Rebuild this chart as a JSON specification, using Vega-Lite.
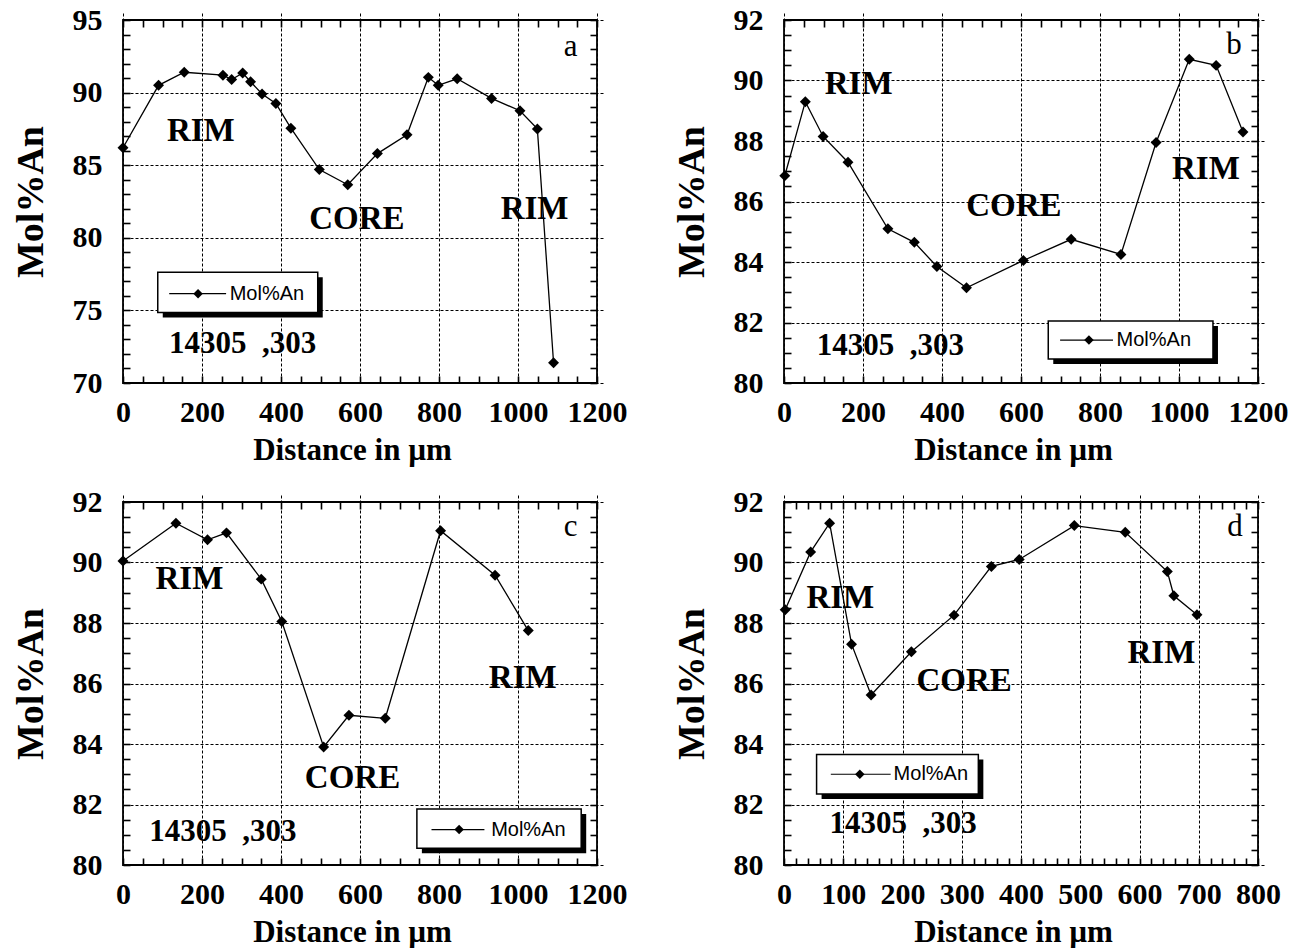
{
  "$schema": "https://vega.github.io/schema/vega-lite/v6.json",
  "background": "white",
  "padding": {"left": 11, "top": 4, "right": 5, "bottom": 0},
  "bounds": "flush",
  "columns": 2,
  "spacing": {"row": 119, "column": 187},
  "config": {
    "view": {"stroke": "black", "strokeWidth": 1.8},
    "axis": {
      "labelFont": "Liberation Serif", "labelFontWeight": "bold", "labelFontSize": 30, "labelColor": "black",
      "titleFont": "Liberation Serif", "titleFontWeight": "bold", "titleColor": "black",
      "ticks": true, "tickColor": "black", "tickSize": 7, "tickWidth": 1.6, "tickOpacity": 1, "offset": -7, "domain": false,
      "gridColor": "black", "gridDash": [3, 2], "gridWidth": 1,
      "labelOverlap": false, "labelFlush": false, "labelBound": false
    },
    "axisBottom": {"labelPadding": 14, "titleFontSize": 31, "titleX": 229, "titleY": 83, "titleAlign": "center", "titleBaseline": "alphabetic"},
    "axisLeft": {"labelPadding": 21, "titleFontSize": 38, "titleX": -99, "titleY": 181.5, "titleAngle": 270, "titleAlign": "center", "titleBaseline": "middle"}
  },
  "datasets": {
    "a": [
      {"distance": 0, "an": 86.2}, {"distance": 90, "an": 90.5}, {"distance": 155, "an": 91.4}, {"distance": 253, "an": 91.2},
      {"distance": 275, "an": 90.9}, {"distance": 303, "an": 91.35}, {"distance": 323, "an": 90.75}, {"distance": 352, "an": 89.9},
      {"distance": 387, "an": 89.25}, {"distance": 425, "an": 87.55}, {"distance": 497, "an": 84.7}, {"distance": 569, "an": 83.65},
      {"distance": 644, "an": 85.8}, {"distance": 719, "an": 87.1}, {"distance": 773, "an": 91.05}, {"distance": 798, "an": 90.5},
      {"distance": 846, "an": 90.95}, {"distance": 933, "an": 89.6}, {"distance": 1005, "an": 88.75}, {"distance": 1049, "an": 87.5},
      {"distance": 1090, "an": 71.4}
    ],
    "b": [
      {"distance": 2, "an": 86.85}, {"distance": 54, "an": 89.3}, {"distance": 99, "an": 88.15}, {"distance": 162, "an": 87.3},
      {"distance": 263, "an": 85.1}, {"distance": 330, "an": 84.65}, {"distance": 387, "an": 83.85}, {"distance": 462, "an": 83.15},
      {"distance": 606, "an": 84.05}, {"distance": 727, "an": 84.75}, {"distance": 853, "an": 84.25}, {"distance": 942, "an": 87.95},
      {"distance": 1026, "an": 90.7}, {"distance": 1094, "an": 90.5}, {"distance": 1162, "an": 88.3}
    ],
    "c": [
      {"distance": 0, "an": 90.05}, {"distance": 134, "an": 91.3}, {"distance": 214, "an": 90.75}, {"distance": 262, "an": 90.98},
      {"distance": 350, "an": 89.45}, {"distance": 402, "an": 88.05}, {"distance": 508, "an": 83.9}, {"distance": 572, "an": 84.95},
      {"distance": 664, "an": 84.85}, {"distance": 804, "an": 91.05}, {"distance": 942, "an": 89.58}, {"distance": 1026, "an": 87.75}
    ],
    "d": [
      {"distance": 2, "an": 88.44}, {"distance": 45, "an": 90.35}, {"distance": 77, "an": 91.3}, {"distance": 114, "an": 87.3},
      {"distance": 147, "an": 85.62}, {"distance": 215, "an": 87.05}, {"distance": 287, "an": 88.26}, {"distance": 350, "an": 89.87},
      {"distance": 397, "an": 90.1}, {"distance": 490, "an": 91.22}, {"distance": 576, "an": 91.0}, {"distance": 647, "an": 89.7},
      {"distance": 658, "an": 88.9}, {"distance": 697, "an": 88.27}
    ],
    "notes": [
      {"panel": "a", "kind": "big", "x": 197, "y": 86.7, "text": "RIM"},
      {"panel": "a", "kind": "big", "x": 592, "y": 80.6, "text": "CORE"},
      {"panel": "a", "kind": "big", "x": 1042, "y": 81.3, "text": "RIM"},
      {"panel": "a", "kind": "sample", "x": 303, "y": 72.05, "text": "14305\u00a0\u00a0,303"},
      {"panel": "a", "kind": "letter", "x": 1133, "y": 92.55, "text": "a"},
      {"panel": "b", "kind": "big", "x": 189, "y": 89.55, "text": "RIM"},
      {"panel": "b", "kind": "big", "x": 582, "y": 85.52, "text": "CORE"},
      {"panel": "b", "kind": "big", "x": 1068, "y": 86.73, "text": "RIM"},
      {"panel": "b", "kind": "sample", "x": 269, "y": 80.93, "text": "14305\u00a0\u00a0,303"},
      {"panel": "b", "kind": "letter", "x": 1139, "y": 90.87, "text": "b"},
      {"panel": "c", "kind": "big", "x": 168, "y": 89.11, "text": "RIM"},
      {"panel": "c", "kind": "big", "x": 581, "y": 82.54, "text": "CORE"},
      {"panel": "c", "kind": "big", "x": 1012, "y": 85.85, "text": "RIM"},
      {"panel": "c", "kind": "sample", "x": 253, "y": 80.78, "text": "14305\u00a0\u00a0,303"},
      {"panel": "c", "kind": "letter", "x": 1133, "y": 90.87, "text": "c"},
      {"panel": "d", "kind": "big", "x": 95, "y": 88.5, "text": "RIM"},
      {"panel": "d", "kind": "big", "x": 304, "y": 85.74, "text": "CORE"},
      {"panel": "d", "kind": "big", "x": 637, "y": 86.67, "text": "RIM"},
      {"panel": "d", "kind": "sample", "x": 201, "y": 81.05, "text": "14305\u00a0\u00a0,303"},
      {"panel": "d", "kind": "letter", "x": 761, "y": 90.86, "text": "d"}
    ],
    "legend": [
      {"panel": "a", "left": 88, "right": 493, "top": 77.62, "bottom": 74.86, "line_start": 117, "line_end": 261, "marker": 190, "level": 76.15, "label_at": 270, "label": "Mol%An"},
      {"panel": "b", "left": 669, "right": 1086, "top": 82.05, "bottom": 80.79, "line_start": 699, "line_end": 833, "marker": 772, "level": 81.42, "label_at": 842, "label": "Mol%An"},
      {"panel": "c", "left": 744, "right": 1160, "top": 81.85, "bottom": 80.55, "line_start": 781, "line_end": 915, "marker": 851, "level": 81.17, "label_at": 932, "label": "Mol%An"},
      {"panel": "d", "left": 55, "right": 328, "top": 83.65, "bottom": 82.35, "line_start": 79, "line_end": 180, "marker": 128, "level": 83.0, "label_at": 185, "label": "Mol%An"}
    ]
  },
  "concat": [
    {
      "width": 474, "height": 363,
      "resolve": {"axis": {"x": "independent", "y": "independent"}},
      "layer": [
        {"data": {"name": "a"}, "mark": {"type": "line", "color": "black", "strokeWidth": 1.3},
         "encoding": {
           "x": {"field": "distance", "type": "quantitative", "scale": {"domain": [0, 1200], "nice": false, "zero": false},
                 "axis": {"orient": "bottom", "title": "Distance in µm", "values": [0,50,100,150,200,250,300,350,400,450,500,550,600,650,700,750,800,850,900,950,1000,1050,1100,1150,1200],
                          "labelExpr": "datum.value % 200 === 0 ? '' + datum.value : ''", "grid": true,
                          "gridOpacity": {"condition": {"test": "datum.value % 200 === 0", "value": 1}, "value": 0}}},
           "y": {"field": "an", "type": "quantitative", "scale": {"domain": [70, 95], "nice": false, "zero": false},
                 "axis": {"orient": "left", "title": "Mol%An", "values": [70,71,72,73,74,75,76,77,78,79,80,81,82,83,84,85,86,87,88,89,90,91,92,93,94,95],
                          "labelExpr": "datum.value % 5 === 0 ? '' + datum.value : ''", "grid": true,
                          "gridOpacity": {"condition": {"test": "datum.value % 5 === 0", "value": 1}, "value": 0}}}}},
        {"data": {"name": "a"}, "mark": {"type": "point", "shape": "diamond", "filled": true, "color": "black", "size": 120, "opacity": 1},
         "encoding": {
           "x": {"field": "distance", "type": "quantitative", "scale": {"domain": [0, 1200], "nice": false, "zero": false},
                 "axis": {"orient": "top", "title": null, "labels": false, "grid": false, "values": [0,50,100,150,200,250,300,350,400,450,500,550,600,650,700,750,800,850,900,950,1000,1050,1100,1150,1200]}},
           "y": {"field": "an", "type": "quantitative", "scale": {"domain": [70, 95], "nice": false, "zero": false},
                 "axis": {"orient": "right", "title": null, "labels": false, "grid": false, "values": [70,71,72,73,74,75,76,77,78,79,80,81,82,83,84,85,86,87,88,89,90,91,92,93,94,95]}}}},
        {"data": {"name": "notes"}, "transform": [{"filter": "datum.panel === 'a' && datum.kind === 'big'"}],
         "mark": {"type": "text", "font": "Liberation Serif", "fontWeight": "bold", "fontSize": 33, "align": "center", "baseline": "alphabetic", "color": "black"},
         "encoding": {"x": {"field": "x", "type": "quantitative", "scale": {"domain": [0, 1200], "nice": false, "zero": false}, "axis": null},
                      "y": {"field": "y", "type": "quantitative", "scale": {"domain": [70, 95], "nice": false, "zero": false}, "axis": null},
                      "text": {"field": "text"}}},
        {"data": {"name": "notes"}, "transform": [{"filter": "datum.panel === 'a' && datum.kind === 'sample'"}],
         "mark": {"type": "text", "font": "Liberation Serif", "fontWeight": "bold", "fontSize": 31, "align": "center", "baseline": "alphabetic", "color": "black"},
         "encoding": {"x": {"field": "x", "type": "quantitative", "scale": {"domain": [0, 1200], "nice": false, "zero": false}, "axis": null},
                      "y": {"field": "y", "type": "quantitative", "scale": {"domain": [70, 95], "nice": false, "zero": false}, "axis": null},
                      "text": {"field": "text"}}},
        {"data": {"name": "notes"}, "transform": [{"filter": "datum.panel === 'a' && datum.kind === 'letter'"}],
         "mark": {"type": "text", "font": "Liberation Serif", "fontSize": 31, "align": "center", "baseline": "alphabetic", "color": "black"},
         "encoding": {"x": {"field": "x", "type": "quantitative", "scale": {"domain": [0, 1200], "nice": false, "zero": false}, "axis": null},
                      "y": {"field": "y", "type": "quantitative", "scale": {"domain": [70, 95], "nice": false, "zero": false}, "axis": null},
                      "text": {"field": "text"}}},
        {"data": {"name": "legend"}, "transform": [{"filter": "datum.panel === 'a'"}],
         "mark": {"type": "rect", "color": "black", "xOffset": 5, "x2Offset": 5, "yOffset": 5, "y2Offset": 5},
         "encoding": {"x": {"field": "left", "type": "quantitative", "scale": {"domain": [0, 1200], "nice": false, "zero": false}, "axis": null}, "x2": {"field": "right"},
                      "y": {"field": "top", "type": "quantitative", "scale": {"domain": [70, 95], "nice": false, "zero": false}, "axis": null}, "y2": {"field": "bottom"}}},
        {"data": {"name": "legend"}, "transform": [{"filter": "datum.panel === 'a'"}],
         "mark": {"type": "rect", "fill": "white", "stroke": "black", "strokeWidth": 1.5},
         "encoding": {"x": {"field": "left", "type": "quantitative", "scale": {"domain": [0, 1200], "nice": false, "zero": false}, "axis": null}, "x2": {"field": "right"},
                      "y": {"field": "top", "type": "quantitative", "scale": {"domain": [70, 95], "nice": false, "zero": false}, "axis": null}, "y2": {"field": "bottom"}}},
        {"data": {"name": "legend"}, "transform": [{"filter": "datum.panel === 'a'"}],
         "mark": {"type": "rule", "color": "black", "strokeWidth": 1.2},
         "encoding": {"x": {"field": "line_start", "type": "quantitative", "scale": {"domain": [0, 1200], "nice": false, "zero": false}, "axis": null}, "x2": {"field": "line_end"},
                      "y": {"field": "level", "type": "quantitative", "scale": {"domain": [70, 95], "nice": false, "zero": false}, "axis": null}}},
        {"data": {"name": "legend"}, "transform": [{"filter": "datum.panel === 'a'"}],
         "mark": {"type": "point", "shape": "diamond", "filled": true, "color": "black", "size": 90, "opacity": 1},
         "encoding": {"x": {"field": "marker", "type": "quantitative", "scale": {"domain": [0, 1200], "nice": false, "zero": false}, "axis": null},
                      "y": {"field": "level", "type": "quantitative", "scale": {"domain": [70, 95], "nice": false, "zero": false}, "axis": null}}},
        {"data": {"name": "legend"}, "transform": [{"filter": "datum.panel === 'a'"}],
         "mark": {"type": "text", "font": "Liberation Sans", "fontSize": 20, "align": "left", "baseline": "middle", "color": "black"},
         "encoding": {"x": {"field": "label_at", "type": "quantitative", "scale": {"domain": [0, 1200], "nice": false, "zero": false}, "axis": null},
                      "y": {"field": "level", "type": "quantitative", "scale": {"domain": [70, 95], "nice": false, "zero": false}, "axis": null},
                      "text": {"field": "label"}}}
      ]
    },
    {
      "width": 474, "height": 363,
      "resolve": {"axis": {"x": "independent", "y": "independent"}},
      "layer": [
        {"data": {"name": "b"}, "mark": {"type": "line", "color": "black", "strokeWidth": 1.3},
         "encoding": {
           "x": {"field": "distance", "type": "quantitative", "scale": {"domain": [0, 1200], "nice": false, "zero": false},
                 "axis": {"orient": "bottom", "title": "Distance in µm", "values": [0,50,100,150,200,250,300,350,400,450,500,550,600,650,700,750,800,850,900,950,1000,1050,1100,1150,1200],
                          "labelExpr": "datum.value % 200 === 0 ? '' + datum.value : ''", "grid": true,
                          "gridOpacity": {"condition": {"test": "datum.value % 200 === 0", "value": 1}, "value": 0}}},
           "y": {"field": "an", "type": "quantitative", "scale": {"domain": [80, 92], "nice": false, "zero": false},
                 "axis": {"orient": "left", "title": "Mol%An", "values": [80,80.5,81,81.5,82,82.5,83,83.5,84,84.5,85,85.5,86,86.5,87,87.5,88,88.5,89,89.5,90,90.5,91,91.5,92],
                          "labelExpr": "datum.value % 2 === 0 ? '' + datum.value : ''", "grid": true,
                          "gridOpacity": {"condition": {"test": "datum.value % 2 === 0", "value": 1}, "value": 0}}}}},
        {"data": {"name": "b"}, "mark": {"type": "point", "shape": "diamond", "filled": true, "color": "black", "size": 120, "opacity": 1},
         "encoding": {
           "x": {"field": "distance", "type": "quantitative", "scale": {"domain": [0, 1200], "nice": false, "zero": false},
                 "axis": {"orient": "top", "title": null, "labels": false, "grid": false, "values": [0,50,100,150,200,250,300,350,400,450,500,550,600,650,700,750,800,850,900,950,1000,1050,1100,1150,1200]}},
           "y": {"field": "an", "type": "quantitative", "scale": {"domain": [80, 92], "nice": false, "zero": false},
                 "axis": {"orient": "right", "title": null, "labels": false, "grid": false, "values": [80,80.5,81,81.5,82,82.5,83,83.5,84,84.5,85,85.5,86,86.5,87,87.5,88,88.5,89,89.5,90,90.5,91,91.5,92]}}}},
        {"data": {"name": "notes"}, "transform": [{"filter": "datum.panel === 'b' && datum.kind === 'big'"}],
         "mark": {"type": "text", "font": "Liberation Serif", "fontWeight": "bold", "fontSize": 33, "align": "center", "baseline": "alphabetic", "color": "black"},
         "encoding": {"x": {"field": "x", "type": "quantitative", "scale": {"domain": [0, 1200], "nice": false, "zero": false}, "axis": null},
                      "y": {"field": "y", "type": "quantitative", "scale": {"domain": [80, 92], "nice": false, "zero": false}, "axis": null},
                      "text": {"field": "text"}}},
        {"data": {"name": "notes"}, "transform": [{"filter": "datum.panel === 'b' && datum.kind === 'sample'"}],
         "mark": {"type": "text", "font": "Liberation Serif", "fontWeight": "bold", "fontSize": 31, "align": "center", "baseline": "alphabetic", "color": "black"},
         "encoding": {"x": {"field": "x", "type": "quantitative", "scale": {"domain": [0, 1200], "nice": false, "zero": false}, "axis": null},
                      "y": {"field": "y", "type": "quantitative", "scale": {"domain": [80, 92], "nice": false, "zero": false}, "axis": null},
                      "text": {"field": "text"}}},
        {"data": {"name": "notes"}, "transform": [{"filter": "datum.panel === 'b' && datum.kind === 'letter'"}],
         "mark": {"type": "text", "font": "Liberation Serif", "fontSize": 31, "align": "center", "baseline": "alphabetic", "color": "black"},
         "encoding": {"x": {"field": "x", "type": "quantitative", "scale": {"domain": [0, 1200], "nice": false, "zero": false}, "axis": null},
                      "y": {"field": "y", "type": "quantitative", "scale": {"domain": [80, 92], "nice": false, "zero": false}, "axis": null},
                      "text": {"field": "text"}}},
        {"data": {"name": "legend"}, "transform": [{"filter": "datum.panel === 'b'"}],
         "mark": {"type": "rect", "color": "black", "xOffset": 5, "x2Offset": 5, "yOffset": 5, "y2Offset": 5},
         "encoding": {"x": {"field": "left", "type": "quantitative", "scale": {"domain": [0, 1200], "nice": false, "zero": false}, "axis": null}, "x2": {"field": "right"},
                      "y": {"field": "top", "type": "quantitative", "scale": {"domain": [80, 92], "nice": false, "zero": false}, "axis": null}, "y2": {"field": "bottom"}}},
        {"data": {"name": "legend"}, "transform": [{"filter": "datum.panel === 'b'"}],
         "mark": {"type": "rect", "fill": "white", "stroke": "black", "strokeWidth": 1.5},
         "encoding": {"x": {"field": "left", "type": "quantitative", "scale": {"domain": [0, 1200], "nice": false, "zero": false}, "axis": null}, "x2": {"field": "right"},
                      "y": {"field": "top", "type": "quantitative", "scale": {"domain": [80, 92], "nice": false, "zero": false}, "axis": null}, "y2": {"field": "bottom"}}},
        {"data": {"name": "legend"}, "transform": [{"filter": "datum.panel === 'b'"}],
         "mark": {"type": "rule", "color": "black", "strokeWidth": 1.2},
         "encoding": {"x": {"field": "line_start", "type": "quantitative", "scale": {"domain": [0, 1200], "nice": false, "zero": false}, "axis": null}, "x2": {"field": "line_end"},
                      "y": {"field": "level", "type": "quantitative", "scale": {"domain": [80, 92], "nice": false, "zero": false}, "axis": null}}},
        {"data": {"name": "legend"}, "transform": [{"filter": "datum.panel === 'b'"}],
         "mark": {"type": "point", "shape": "diamond", "filled": true, "color": "black", "size": 90, "opacity": 1},
         "encoding": {"x": {"field": "marker", "type": "quantitative", "scale": {"domain": [0, 1200], "nice": false, "zero": false}, "axis": null},
                      "y": {"field": "level", "type": "quantitative", "scale": {"domain": [80, 92], "nice": false, "zero": false}, "axis": null}}},
        {"data": {"name": "legend"}, "transform": [{"filter": "datum.panel === 'b'"}],
         "mark": {"type": "text", "font": "Liberation Sans", "fontSize": 20, "align": "left", "baseline": "middle", "color": "black"},
         "encoding": {"x": {"field": "label_at", "type": "quantitative", "scale": {"domain": [0, 1200], "nice": false, "zero": false}, "axis": null},
                      "y": {"field": "level", "type": "quantitative", "scale": {"domain": [80, 92], "nice": false, "zero": false}, "axis": null},
                      "text": {"field": "label"}}}
      ]
    },
    {
      "width": 474, "height": 363,
      "resolve": {"axis": {"x": "independent", "y": "independent"}},
      "layer": [
        {"data": {"name": "c"}, "mark": {"type": "line", "color": "black", "strokeWidth": 1.3},
         "encoding": {
           "x": {"field": "distance", "type": "quantitative", "scale": {"domain": [0, 1200], "nice": false, "zero": false},
                 "axis": {"orient": "bottom", "title": "Distance in µm", "values": [0,50,100,150,200,250,300,350,400,450,500,550,600,650,700,750,800,850,900,950,1000,1050,1100,1150,1200],
                          "labelExpr": "datum.value % 200 === 0 ? '' + datum.value : ''", "grid": true,
                          "gridOpacity": {"condition": {"test": "datum.value % 200 === 0", "value": 1}, "value": 0}}},
           "y": {"field": "an", "type": "quantitative", "scale": {"domain": [80, 92], "nice": false, "zero": false},
                 "axis": {"orient": "left", "title": "Mol%An", "values": [80,80.5,81,81.5,82,82.5,83,83.5,84,84.5,85,85.5,86,86.5,87,87.5,88,88.5,89,89.5,90,90.5,91,91.5,92],
                          "labelExpr": "datum.value % 2 === 0 ? '' + datum.value : ''", "grid": true,
                          "gridOpacity": {"condition": {"test": "datum.value % 2 === 0", "value": 1}, "value": 0}}}}},
        {"data": {"name": "c"}, "mark": {"type": "point", "shape": "diamond", "filled": true, "color": "black", "size": 120, "opacity": 1},
         "encoding": {
           "x": {"field": "distance", "type": "quantitative", "scale": {"domain": [0, 1200], "nice": false, "zero": false},
                 "axis": {"orient": "top", "title": null, "labels": false, "grid": false, "values": [0,50,100,150,200,250,300,350,400,450,500,550,600,650,700,750,800,850,900,950,1000,1050,1100,1150,1200]}},
           "y": {"field": "an", "type": "quantitative", "scale": {"domain": [80, 92], "nice": false, "zero": false},
                 "axis": {"orient": "right", "title": null, "labels": false, "grid": false, "values": [80,80.5,81,81.5,82,82.5,83,83.5,84,84.5,85,85.5,86,86.5,87,87.5,88,88.5,89,89.5,90,90.5,91,91.5,92]}}}},
        {"data": {"name": "notes"}, "transform": [{"filter": "datum.panel === 'c' && datum.kind === 'big'"}],
         "mark": {"type": "text", "font": "Liberation Serif", "fontWeight": "bold", "fontSize": 33, "align": "center", "baseline": "alphabetic", "color": "black"},
         "encoding": {"x": {"field": "x", "type": "quantitative", "scale": {"domain": [0, 1200], "nice": false, "zero": false}, "axis": null},
                      "y": {"field": "y", "type": "quantitative", "scale": {"domain": [80, 92], "nice": false, "zero": false}, "axis": null},
                      "text": {"field": "text"}}},
        {"data": {"name": "notes"}, "transform": [{"filter": "datum.panel === 'c' && datum.kind === 'sample'"}],
         "mark": {"type": "text", "font": "Liberation Serif", "fontWeight": "bold", "fontSize": 31, "align": "center", "baseline": "alphabetic", "color": "black"},
         "encoding": {"x": {"field": "x", "type": "quantitative", "scale": {"domain": [0, 1200], "nice": false, "zero": false}, "axis": null},
                      "y": {"field": "y", "type": "quantitative", "scale": {"domain": [80, 92], "nice": false, "zero": false}, "axis": null},
                      "text": {"field": "text"}}},
        {"data": {"name": "notes"}, "transform": [{"filter": "datum.panel === 'c' && datum.kind === 'letter'"}],
         "mark": {"type": "text", "font": "Liberation Serif", "fontSize": 31, "align": "center", "baseline": "alphabetic", "color": "black"},
         "encoding": {"x": {"field": "x", "type": "quantitative", "scale": {"domain": [0, 1200], "nice": false, "zero": false}, "axis": null},
                      "y": {"field": "y", "type": "quantitative", "scale": {"domain": [80, 92], "nice": false, "zero": false}, "axis": null},
                      "text": {"field": "text"}}},
        {"data": {"name": "legend"}, "transform": [{"filter": "datum.panel === 'c'"}],
         "mark": {"type": "rect", "color": "black", "xOffset": 5, "x2Offset": 5, "yOffset": 5, "y2Offset": 5},
         "encoding": {"x": {"field": "left", "type": "quantitative", "scale": {"domain": [0, 1200], "nice": false, "zero": false}, "axis": null}, "x2": {"field": "right"},
                      "y": {"field": "top", "type": "quantitative", "scale": {"domain": [80, 92], "nice": false, "zero": false}, "axis": null}, "y2": {"field": "bottom"}}},
        {"data": {"name": "legend"}, "transform": [{"filter": "datum.panel === 'c'"}],
         "mark": {"type": "rect", "fill": "white", "stroke": "black", "strokeWidth": 1.5},
         "encoding": {"x": {"field": "left", "type": "quantitative", "scale": {"domain": [0, 1200], "nice": false, "zero": false}, "axis": null}, "x2": {"field": "right"},
                      "y": {"field": "top", "type": "quantitative", "scale": {"domain": [80, 92], "nice": false, "zero": false}, "axis": null}, "y2": {"field": "bottom"}}},
        {"data": {"name": "legend"}, "transform": [{"filter": "datum.panel === 'c'"}],
         "mark": {"type": "rule", "color": "black", "strokeWidth": 1.2},
         "encoding": {"x": {"field": "line_start", "type": "quantitative", "scale": {"domain": [0, 1200], "nice": false, "zero": false}, "axis": null}, "x2": {"field": "line_end"},
                      "y": {"field": "level", "type": "quantitative", "scale": {"domain": [80, 92], "nice": false, "zero": false}, "axis": null}}},
        {"data": {"name": "legend"}, "transform": [{"filter": "datum.panel === 'c'"}],
         "mark": {"type": "point", "shape": "diamond", "filled": true, "color": "black", "size": 90, "opacity": 1},
         "encoding": {"x": {"field": "marker", "type": "quantitative", "scale": {"domain": [0, 1200], "nice": false, "zero": false}, "axis": null},
                      "y": {"field": "level", "type": "quantitative", "scale": {"domain": [80, 92], "nice": false, "zero": false}, "axis": null}}},
        {"data": {"name": "legend"}, "transform": [{"filter": "datum.panel === 'c'"}],
         "mark": {"type": "text", "font": "Liberation Sans", "fontSize": 20, "align": "left", "baseline": "middle", "color": "black"},
         "encoding": {"x": {"field": "label_at", "type": "quantitative", "scale": {"domain": [0, 1200], "nice": false, "zero": false}, "axis": null},
                      "y": {"field": "level", "type": "quantitative", "scale": {"domain": [80, 92], "nice": false, "zero": false}, "axis": null},
                      "text": {"field": "label"}}}
      ]
    },
    {
      "width": 474, "height": 363,
      "resolve": {"axis": {"x": "independent", "y": "independent"}},
      "layer": [
        {"data": {"name": "d"}, "mark": {"type": "line", "color": "black", "strokeWidth": 1.3},
         "encoding": {
           "x": {"field": "distance", "type": "quantitative", "scale": {"domain": [0, 800], "nice": false, "zero": false},
                 "axis": {"orient": "bottom", "title": "Distance in µm", "values": [0,20,40,60,80,100,120,140,160,180,200,220,240,260,280,300,320,340,360,380,400,420,440,460,480,500,520,540,560,580,600,620,640,660,680,700,720,740,760,780,800],
                          "labelExpr": "datum.value % 100 === 0 ? '' + datum.value : ''", "grid": true,
                          "gridOpacity": {"condition": {"test": "datum.value % 100 === 0", "value": 1}, "value": 0}}},
           "y": {"field": "an", "type": "quantitative", "scale": {"domain": [80, 92], "nice": false, "zero": false},
                 "axis": {"orient": "left", "title": "Mol%An", "values": [80,80.5,81,81.5,82,82.5,83,83.5,84,84.5,85,85.5,86,86.5,87,87.5,88,88.5,89,89.5,90,90.5,91,91.5,92],
                          "labelExpr": "datum.value % 2 === 0 ? '' + datum.value : ''", "grid": true,
                          "gridOpacity": {"condition": {"test": "datum.value % 2 === 0", "value": 1}, "value": 0}}}}},
        {"data": {"name": "d"}, "mark": {"type": "point", "shape": "diamond", "filled": true, "color": "black", "size": 120, "opacity": 1},
         "encoding": {
           "x": {"field": "distance", "type": "quantitative", "scale": {"domain": [0, 800], "nice": false, "zero": false},
                 "axis": {"orient": "top", "title": null, "labels": false, "grid": false, "values": [0,20,40,60,80,100,120,140,160,180,200,220,240,260,280,300,320,340,360,380,400,420,440,460,480,500,520,540,560,580,600,620,640,660,680,700,720,740,760,780,800]}},
           "y": {"field": "an", "type": "quantitative", "scale": {"domain": [80, 92], "nice": false, "zero": false},
                 "axis": {"orient": "right", "title": null, "labels": false, "grid": false, "values": [80,80.5,81,81.5,82,82.5,83,83.5,84,84.5,85,85.5,86,86.5,87,87.5,88,88.5,89,89.5,90,90.5,91,91.5,92]}}}},
        {"data": {"name": "notes"}, "transform": [{"filter": "datum.panel === 'd' && datum.kind === 'big'"}],
         "mark": {"type": "text", "font": "Liberation Serif", "fontWeight": "bold", "fontSize": 33, "align": "center", "baseline": "alphabetic", "color": "black"},
         "encoding": {"x": {"field": "x", "type": "quantitative", "scale": {"domain": [0, 800], "nice": false, "zero": false}, "axis": null},
                      "y": {"field": "y", "type": "quantitative", "scale": {"domain": [80, 92], "nice": false, "zero": false}, "axis": null},
                      "text": {"field": "text"}}},
        {"data": {"name": "notes"}, "transform": [{"filter": "datum.panel === 'd' && datum.kind === 'sample'"}],
         "mark": {"type": "text", "font": "Liberation Serif", "fontWeight": "bold", "fontSize": 31, "align": "center", "baseline": "alphabetic", "color": "black"},
         "encoding": {"x": {"field": "x", "type": "quantitative", "scale": {"domain": [0, 800], "nice": false, "zero": false}, "axis": null},
                      "y": {"field": "y", "type": "quantitative", "scale": {"domain": [80, 92], "nice": false, "zero": false}, "axis": null},
                      "text": {"field": "text"}}},
        {"data": {"name": "notes"}, "transform": [{"filter": "datum.panel === 'd' && datum.kind === 'letter'"}],
         "mark": {"type": "text", "font": "Liberation Serif", "fontSize": 31, "align": "center", "baseline": "alphabetic", "color": "black"},
         "encoding": {"x": {"field": "x", "type": "quantitative", "scale": {"domain": [0, 800], "nice": false, "zero": false}, "axis": null},
                      "y": {"field": "y", "type": "quantitative", "scale": {"domain": [80, 92], "nice": false, "zero": false}, "axis": null},
                      "text": {"field": "text"}}},
        {"data": {"name": "legend"}, "transform": [{"filter": "datum.panel === 'd'"}],
         "mark": {"type": "rect", "color": "black", "xOffset": 5, "x2Offset": 5, "yOffset": 5, "y2Offset": 5},
         "encoding": {"x": {"field": "left", "type": "quantitative", "scale": {"domain": [0, 800], "nice": false, "zero": false}, "axis": null}, "x2": {"field": "right"},
                      "y": {"field": "top", "type": "quantitative", "scale": {"domain": [80, 92], "nice": false, "zero": false}, "axis": null}, "y2": {"field": "bottom"}}},
        {"data": {"name": "legend"}, "transform": [{"filter": "datum.panel === 'd'"}],
         "mark": {"type": "rect", "fill": "white", "stroke": "black", "strokeWidth": 1.5},
         "encoding": {"x": {"field": "left", "type": "quantitative", "scale": {"domain": [0, 800], "nice": false, "zero": false}, "axis": null}, "x2": {"field": "right"},
                      "y": {"field": "top", "type": "quantitative", "scale": {"domain": [80, 92], "nice": false, "zero": false}, "axis": null}, "y2": {"field": "bottom"}}},
        {"data": {"name": "legend"}, "transform": [{"filter": "datum.panel === 'd'"}],
         "mark": {"type": "rule", "color": "black", "strokeWidth": 1.2},
         "encoding": {"x": {"field": "line_start", "type": "quantitative", "scale": {"domain": [0, 800], "nice": false, "zero": false}, "axis": null}, "x2": {"field": "line_end"},
                      "y": {"field": "level", "type": "quantitative", "scale": {"domain": [80, 92], "nice": false, "zero": false}, "axis": null}}},
        {"data": {"name": "legend"}, "transform": [{"filter": "datum.panel === 'd'"}],
         "mark": {"type": "point", "shape": "diamond", "filled": true, "color": "black", "size": 90, "opacity": 1},
         "encoding": {"x": {"field": "marker", "type": "quantitative", "scale": {"domain": [0, 800], "nice": false, "zero": false}, "axis": null},
                      "y": {"field": "level", "type": "quantitative", "scale": {"domain": [80, 92], "nice": false, "zero": false}, "axis": null}}},
        {"data": {"name": "legend"}, "transform": [{"filter": "datum.panel === 'd'"}],
         "mark": {"type": "text", "font": "Liberation Sans", "fontSize": 20, "align": "left", "baseline": "middle", "color": "black"},
         "encoding": {"x": {"field": "label_at", "type": "quantitative", "scale": {"domain": [0, 800], "nice": false, "zero": false}, "axis": null},
                      "y": {"field": "level", "type": "quantitative", "scale": {"domain": [80, 92], "nice": false, "zero": false}, "axis": null},
                      "text": {"field": "label"}}}
      ]
    }
  ]
}
